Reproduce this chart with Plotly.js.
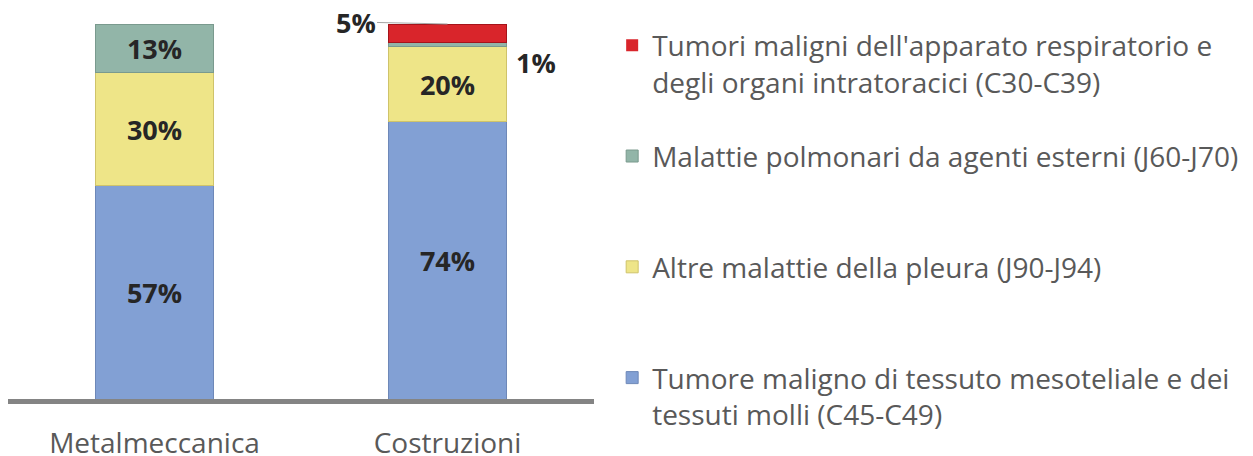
<!DOCTYPE html>
<html><head><meta charset="utf-8">
<script src="https://cdn.plot.ly/plotly-3.0.1.min.js"></script>
<style>html,body{margin:0;padding:0;background:#fff;}#chart{width:1253px;height:456px;}</style>
</head><body><div id="chart"></div>
<script>
const categories = ['Metalmeccanica', 'Costruzioni'];
const seriesNames = [
  'Tumore maligno di tessuto mesoteliale e dei<br>tessuti molli (C45-C49)',
  'Altre malattie della pleura (J90-J94)<br>\u00A0',
  'Malattie polmonari da agenti esterni (J60-J70)<br>\u00A0',
  "Tumori maligni dell'apparato respiratorio e<br>degli organi intratoracici (C30-C39)"
];
const tumoreMesoteliale = [57, 74];
const altrePleura = [30, 20];
const malattiePolmonari = [13, 1];
const tumoriRespiratorio = [0, 5];
const colors = ['#82A0D4', '#EEE588', '#92B5A8', '#D9252B'];
const lineColors = ['#6E88B8', '#CFC36A', '#7A9A8E', '#A5141A'];

const seriesValues = [tumoreMesoteliale, altrePleura, malattiePolmonari, tumoriRespiratorio];

const traces = seriesValues.map((vals, i) => ({
  type: 'bar',
  name: seriesNames[i],
  x: categories,
  y: vals,
  width: 0.4,
  legendgroup: 'g' + i,
  legendrank: 4 - i,
  marker: {color: colors[i], line: {color: lineColors[i], width: vals.map(v => v > 0 ? 1 : 0)}},
  text: vals.map(v => v >= 10 ? v + '%' : ''),
  textposition: 'inside',
  insidetextanchor: 'middle',
  textangle: 0,
  textfont: {family: 'Open Sans', size: 27, weight: 'bold', color: '#262626'},
  hoverinfo: 'x+y+name'
}));

// Small labels on Costruzioni placed outside the bar
const ci = 1;
const topAll = tumoreMesoteliale[ci] + altrePleura[ci] + malattiePolmonari[ci] + tumoriRespiratorio[ci];
const greenMid = tumoreMesoteliale[ci] + altrePleura[ci] + malattiePolmonari[ci] / 2;
const labelFont = {family: 'Open Sans', size: 27, weight: 'bold', color: '#262626'};

const layout = {
  width: 1253, height: 456,
  margin: {l: 8, r: 659, t: 24, b: 57, autoexpand: false},
  paper_bgcolor: '#fff', plot_bgcolor: '#fff',
  barmode: 'stack',
  font: {family: 'Open Sans', color: '#595959'},
  xaxis: {
    range: [-0.5, 1.5],
    showline: true, linecolor: '#848484', linewidth: 5,
    showgrid: false, zeroline: false, ticks: '',
    tickfont: {family: 'Open Sans', size: 28, color: '#595959'},
    ticklabelstandoff: 15
  },
  yaxis: {range: [0, 100], visible: false, showgrid: false, zeroline: false},
  showlegend: true,
  legend: {
    x: 1.031, xanchor: 'left',
    yref: 'container', y: 0.955, yanchor: 'top',
    maxheight: 1,
    traceorder: 'grouped', tracegroupgap: 35, valign: 'top',
    font: {family: 'Open Sans', size: 28, color: '#595959'},
    itemwidth: 30
  },
  annotations: [
    {x: categories[ci], y: topAll, text: tumoriRespiratorio[ci] + '%', showarrow: true,
     arrowhead: 0, arrowwidth: 1, arrowcolor: '#A6A6A6', ax: -92, ay: -2,
     font: labelFont},
    {x: categories[ci], y: greenMid, text: malattiePolmonari[ci] + '%', showarrow: false,
     xshift: 88, yshift: -18, font: labelFont}
  ]
};

Plotly.newPlot('chart', traces, layout, {displayModeBar: false, staticPlot: true});
</script></body></html>
